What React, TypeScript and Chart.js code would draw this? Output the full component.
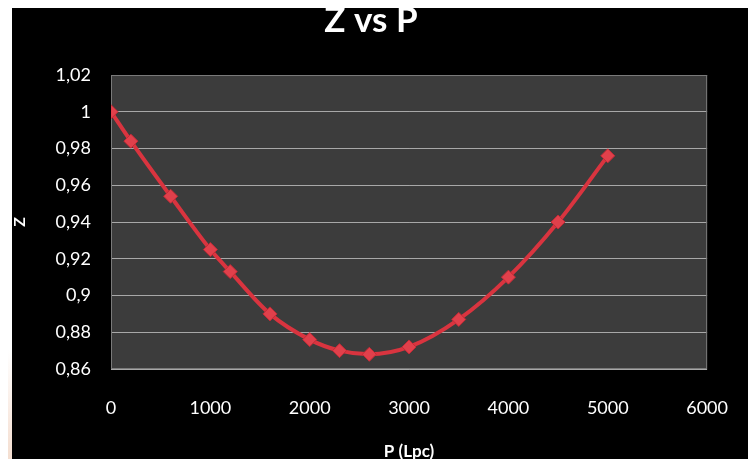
import React, { useEffect, useRef } from "react";
import { Chart, registerables } from "chart.js";

Chart.register(...registerables);

// Pressure (Lpc) and compressibility factor Z
const pressure = [0, 200, 600, 1000, 1200, 1600, 2000, 2300, 2600, 3000, 3500, 4000, 4500, 5000];
const zFactor = [1.0, 0.984, 0.954, 0.925, 0.913, 0.89, 0.876, 0.87, 0.868, 0.872, 0.887, 0.91, 0.94, 0.976];

const xTicks = [0, 1000, 2000, 3000, 4000, 5000, 6000];
const yTicks = [0.86, 0.88, 0.9, 0.92, 0.94, 0.96, 0.98, 1.0, 1.02];

const FONT = "Lato, 'Open Sans', sans-serif";

// Dark gray plotting area with a lighter frame
const plotBackground = {
  id: "plotBackground",
  beforeDraw(chart: any) {
    const { ctx, chartArea } = chart;
    if (!chartArea) return;
    ctx.save();
    ctx.fillStyle = "#3c3c3c";
    ctx.fillRect(chartArea.left, chartArea.top, chartArea.right - chartArea.left, chartArea.bottom - chartArea.top);
    ctx.restore();
  },
  beforeDatasetsDraw(chart: any) {
    const { ctx, chartArea } = chart;
    ctx.save();
    ctx.strokeStyle = "#7a7a7a";
    ctx.lineWidth = 1;
    ctx.strokeRect(chartArea.left + 0.5, chartArea.top + 0.5, chartArea.right - chartArea.left - 1, chartArea.bottom - chartArea.top - 1);
    ctx.restore();
  },
};

const formatComma = (v: number) => String(Number(v.toFixed(2))).replace(".", ",");

export default function App() {
  const ref = useRef<HTMLCanvasElement>(null);

  useEffect(() => {
    if (!ref.current) return;
    const chart = new Chart(ref.current, {
      type: "line",
      data: {
        datasets: [
          {
            data: pressure.map((p, i) => ({ x: p, y: zFactor[i] })),
            borderColor: "#d9343f",
            backgroundColor: "#e0404b",
            borderWidth: 4,
            pointStyle: "rectRot",
            pointRadius: 7,
            pointBorderWidth: 1,
            pointBorderColor: "#c42a36",
            tension: 0.4,
            cubicInterpolationMode: "monotone",
          },
        ],
      },
      plugins: [plotBackground],
      options: {
        animation: false,
        responsive: false,
        maintainAspectRatio: false,
        layout: { padding: { left: 0, right: 26, top: 0, bottom: 0 } },
        plugins: {
          legend: { display: false },
          tooltip: { enabled: false },
          title: {
            display: true,
            text: "Z vs P",
            color: "#ffffff",
            font: { family: FONT, size: 35, weight: "bold", lineHeight: 1.2 },
            padding: { top: 0, bottom: 33 },
          },
        },
        scales: {
          x: {
            type: "linear",
            min: 0,
            max: 6000,
            afterBuildTicks: (s: any) => {
              s.ticks = xTicks.map((v) => ({ value: v }));
            },
            afterFit: (s: any) => {
              s.height = 98;
            },
            grid: { display: false, drawTicks: false },
            border: { display: false },
            ticks: {
              color: "#ffffff",
              padding: 28,
              font: { family: FONT, size: 18 },
              maxRotation: 0,
              callback: (v: any) => String(v),
            },
            title: {
              display: true,
              text: "P (Lpc)",
              color: "#ffffff",
              font: { family: FONT, size: 17, weight: "bold", lineHeight: 1.2 },
              padding: { top: 0, bottom: 5 },
            },
          },
          y: {
            min: 0.86,
            max: 1.02,
            afterBuildTicks: (s: any) => {
              s.ticks = yTicks.map((v) => ({ value: v }));
            },
            afterFit: (s: any) => {
              s.width = 99;
            },
            grid: { color: "#a8a8a8", lineWidth: 1, drawTicks: false },
            border: { display: false },
            ticks: {
              color: "#ffffff",
              padding: 20,
              font: { family: FONT, size: 18 },
              callback: (v: any) => formatComma(Number(v)),
            },
            title: {
              display: true,
              text: "Z",
              color: "#ffffff",
              font: { family: FONT, size: 16, weight: "bold", lineHeight: 1.2 },
              padding: { top: -2, bottom: 0 },
            },
          },
        },
      },
    } as any);
    return () => chart.destroy();
  }, []);

  return (
    <div style={{ position: "relative", width: 756, height: 467, margin: -8, background: "#000", overflow: "hidden" }}>
      <div
        style={{
          position: "absolute",
          left: 0,
          top: 0,
          width: 12,
          height: 467,
          background: "linear-gradient(#ffffff 0%, #ffffff 75%, #f7e6dc 92%, #f3dccd 100%)",
        }}
      />
      <canvas ref={ref} width={744} height={467} style={{ position: "absolute", left: 12, top: 0, display: "block" }} />
      <div style={{ position: "absolute", left: 0, top: 0, width: 756, height: 7, background: "#fff" }} />
    </div>
  );
}
